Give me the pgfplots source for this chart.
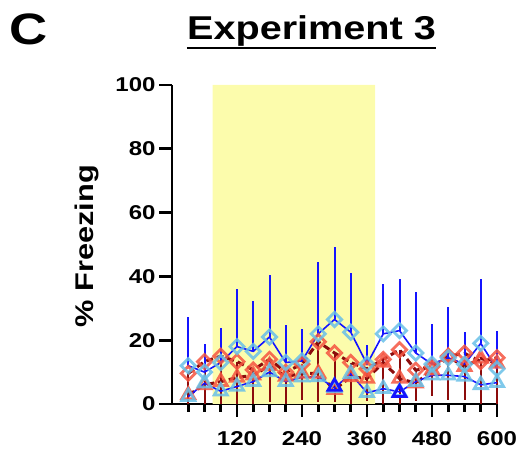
\documentclass[border=0pt]{standalone}
\usepackage{pgfplots}
\pgfplotsset{compat=1.18}
\usepackage{pgfplotstable}
\usepackage{fontspec}
\setmainfont{Liberation Sans}[FakeStretch=1.2]

\definecolor{lblue}{RGB}{105,192,232}
\definecolor{sblue}{RGB}{20,20,255}
\definecolor{salmon}{RGB}{245,85,65}
\definecolor{dred}{RGB}{140,12,12}
\definecolor{shade}{RGB}{252,252,172}

% t = time (s); A/B blue groups, C/D red groups; errors
\pgfplotstableread{
t   A    Aerr  B    C    Cerr  D
30  12   15.2  2.3  9.6  9.6   2.8
60  10   8.8   6.5  13.3 13.3  6
90  13   10.7  4    15   15    7
120 18   18    5.5  13.3 13.3  8.3
150 16.5 15.9  7    10.7 10.7  9
180 21   19.3  10   14   13.5  12
210 13   11.8  7    10   10    8.6
240 13.5 9.9   8.4  12.5 11.3  9.6
270 22   22.6  8.5  19.5 19    9.6
300 26.5 22.8  5    16   15.3  4.5
330 22.5 18.7  9.5  13   13    8.5
360 12.5 6     3.5  11   10    8
390 22   15.6  4.8  14   14    13
420 23   16.3  3.8  17   17    8
450 16   19.1  7    10.6 9.8   6.5
480 12.5 12.6  9    11.7 9.2   10.6
510 14.5 15.8  9    15   13.8  14.8
540 12.5 10.1  8.6  15.9 14.7  11.7
570 19   20.3  6    13.3 13.3  14.3
600 11   12    6.7  14.5 14.5  12.7
}\freezing

\begin{document}
\begin{tikzpicture}[x=1pt,y=1pt]
\useasboundingbox (0,0) rectangle (521,454);
\begin{axis}[
    at={(172pt,50pt)}, anchor=south west,
    scale only axis,
    width=325pt, height=319pt,
    xmin=0, xmax=600, ymin=0, ymax=100,
    axis x line=bottom, axis y line=left,
    axis line style={-, line width=2.8pt},
    tick align=outside,
    major tick length=13pt, minor tick length=8pt,
    every tick/.append style={black, line width=2.8pt},
    xtick={120,240,360,480,600},
    minor xtick={30,60,90,150,180,210,270,300,330,390,420,450,510,540,570},
    ytick={0,20,40,60,80,100},
    /pgf/number format/assume math mode=true,
    ticklabel style={font=\bfseries\fontsize{20}{20}\selectfont},
    xticklabel style={yshift=-11pt},
    clip=false,
]
% shaded stimulus period
\addplot[fill=shade, draw=none] coordinates {(75,0) (75,100) (375,100) (375,0)} \closedcycle;

% markers
\addplot[only marks, mark=triangle, mark size=7.5pt,
    mark options={draw=salmon, line width=2.8pt, draw opacity=0.85}]
    table[x=t, y=D] {\freezing};
\addplot[only marks, mark=square, mark size=5pt,
    mark options={rotate=45, draw=salmon, line width=2.8pt, draw opacity=0.85}]
    table[x=t, y=C] {\freezing};
\addplot[only marks, mark=triangle, mark size=7.5pt,
    mark options={draw=lblue, line width=2.8pt, draw opacity=0.85}]
    table[x=t, y=B] {\freezing};
\addplot[only marks, mark=square, mark size=5pt,
    mark options={rotate=45, draw=lblue, line width=2.8pt, draw opacity=0.85}]
    table[x=t, y=A] {\freezing};
\addplot[only marks, mark=triangle, mark size=7.5pt,
    mark options={draw=sblue, line width=2.8pt}]
    coordinates {(300,5.5) (420,3.5)};

% red lines and error bars
\addplot[dred, line width=3pt, dash pattern=on 7pt off 4pt, no marks,
    error bars/.cd, y dir=minus, y explicit, error mark=none,
    error bar style={solid, line width=2pt, dred}]
    table[x=t, y=C, y error=Cerr] {\freezing};
\addplot[dred, line width=3pt, dash pattern=on 7pt off 4pt, no marks]
    table[x=t, y=D] {\freezing};

% blue lines and error bars
\addplot[sblue, line width=1.6pt, no marks,
    error bars/.cd, y dir=plus, y explicit, error mark=none,
    error bar style={line width=2pt, sblue}]
    table[x=t, y=A, y error=Aerr] {\freezing};
\addplot[sblue, line width=1.6pt, no marks]
    table[x=t, y=B] {\freezing};
\end{axis}

\node[anchor=base west, inner sep=0pt, font=\bfseries\fontsize{44}{44}\selectfont] at (9,409) {C};
\node[anchor=base, inner sep=0pt, font=\bfseries\fontsize{33}{33}\selectfont] (title) at (311.5,414) {Experiment 3};
\draw[line width=2.6pt] ([yshift=-8pt]title.base west) -- ([yshift=-8pt]title.base east);
\node[rotate=90, inner sep=0pt, font=\bfseries\fontsize{25.6}{25.6}\selectfont] at (87,208) {\% Freezing};
\end{tikzpicture}
\end{document}
